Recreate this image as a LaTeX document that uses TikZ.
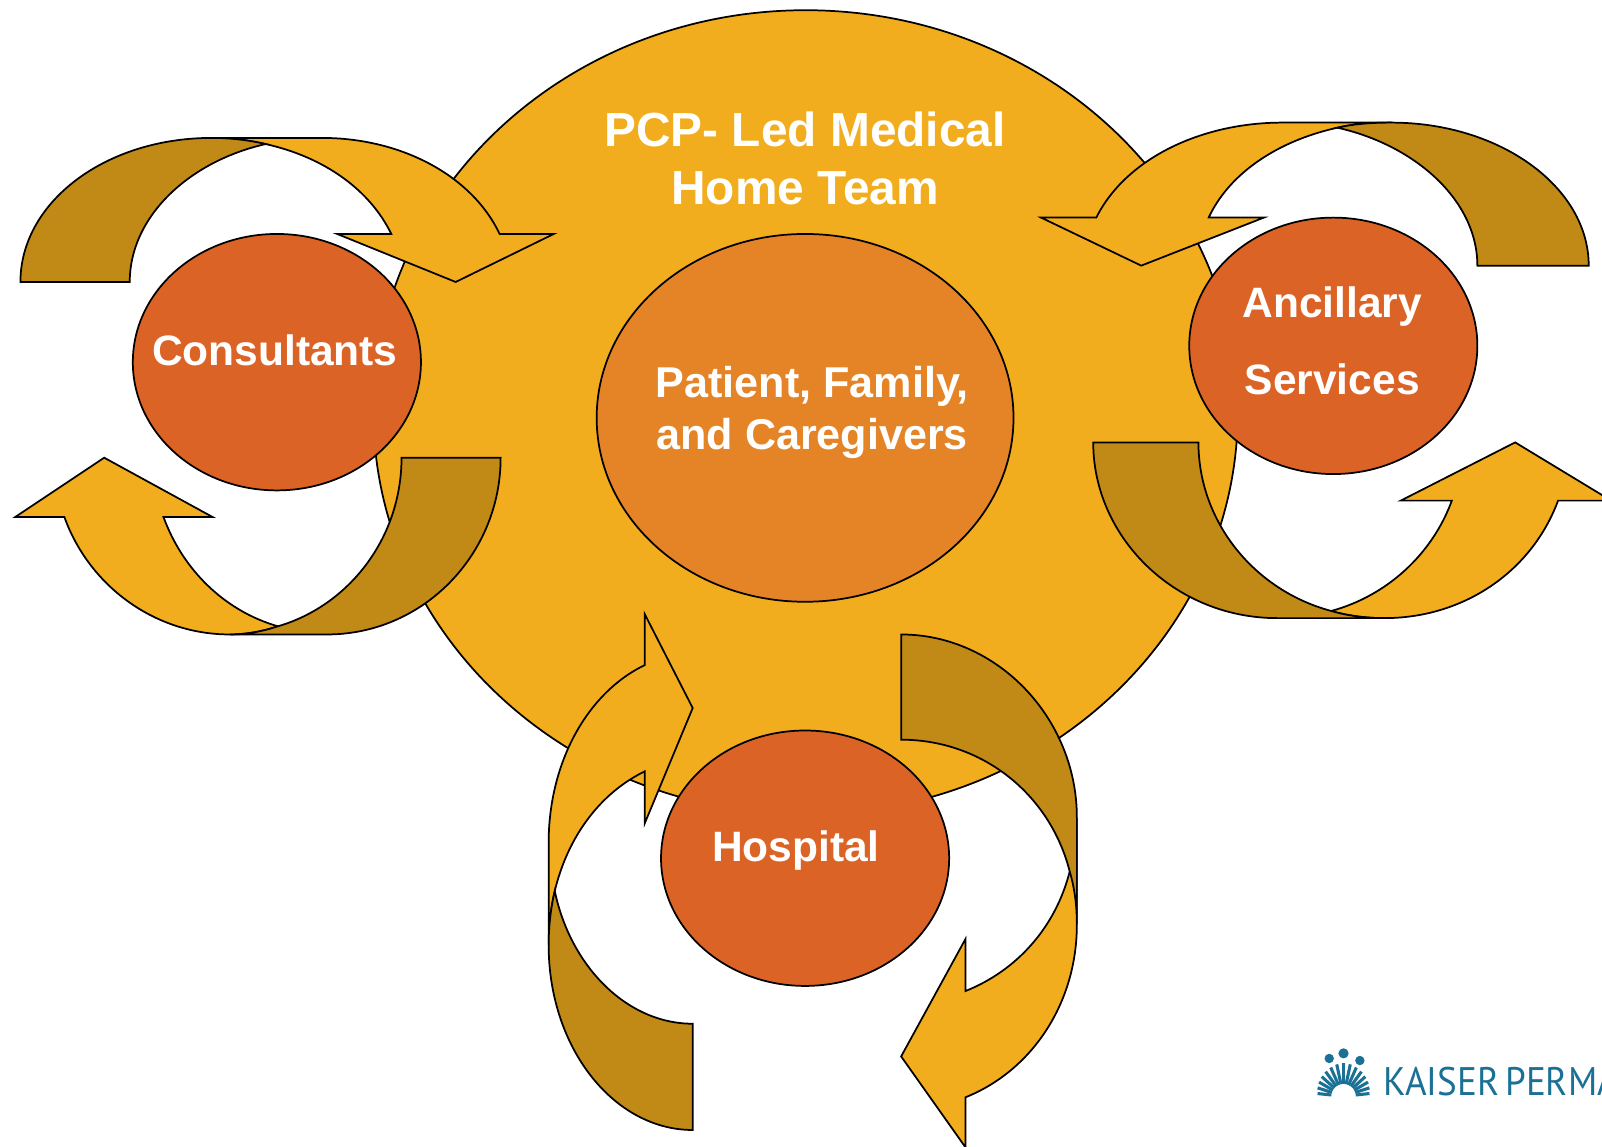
\documentclass[tikz,border=0pt]{standalone}
\usepackage{fontspec}
\setmainfont{Liberation Sans}
\newfontfamily\logofont{PT Sans}
\definecolor{goldfill}{HTML}{F1AD1D}
\definecolor{darkgold}{HTML}{C18915}
\definecolor{innerfill}{HTML}{E58426}
\definecolor{partnerfill}{HTML}{DC6326}
\definecolor{logoblue}{HTML}{1B7195}
\newcommand{\teamc}[0]{(788.5, 403.5)}
\newcommand{\patientc}[0]{(788, 409)}
\newcommand{\consultc}[0]{(271, 354.5)}
\newcommand{\ancillc}[0]{(1305, 338.5)}
\newcommand{\hospc}[0]{(788, 840)}
\tikzset{
  lightarc/.style={draw=black, fill=goldfill, line width=0.85pt, line join=miter},
  darkarc/.style={draw=black, fill=darkgold, line width=0.85pt, line join=miter},
  partner/.style={draw=black, fill=partnerfill, line width=0.85pt},
  whitelabel/.style={text=white, font=\bfseries\fontsize{20.8}{25.5}\selectfont, align=center, inner sep=0pt},
  logotext/.style={text=logoblue, font=\logofont\fontsize{19.5}{20}\selectfont, inner sep=0pt, anchor=base west, transform shape, xscale=0.93}
}
\begin{document}
\begin{tikzpicture}[x=0.5pt, y=-0.5pt]
\useasboundingbox (0, 0) rectangle (1568, 1122.6);
\draw [lightarc] \teamc{} ellipse [x radius=423, y radius=393.5];
\draw [draw=black, fill=innerfill, line width=0.85pt] \patientc{} ellipse [x radius=204, y radius=180];
\draw [lightarc] (207,135) -- (315,135) .. controls (393,135) and (462,172) .. (489,229) -- (542,229) -- (446,276) -- (330,229) -- (383,229) .. controls (362,186) and (318,154) .. (260,141) .. controls (243,137) and (225,135) .. (207,135) -- cycle;
\draw [darkarc] (20,276) .. controls (20,198) and (103,135) .. (207,135) .. controls (225,135) and (243,137) .. (260,141) .. controls (185,158) and (127,212) .. (127,276) -- cycle;
\draw [lightarc] (225,621) .. controls (151,621) and (87,573) .. (63,506) -- (15,506) -- (102,448) -- (208,506) -- (160,506) .. controls (179,558) and (220,598) .. (272,613) .. controls (257,618) and (241,621) .. (225,621) -- cycle;
\draw [darkarc] (393,448) -- (490,448) .. controls (490,543) and (414,621) .. (320,621) -- (225,621) .. controls (241,621) and (257,618) .. (272,613) .. controls (341,593) and (393,527) .. (393,448) -- cycle;
\draw [lightarc] (1362,120) -- (1255,120) .. controls (1176,120) and (1102,155) .. (1073,213) -- (1019,213) -- (1117,260) -- (1237,213) -- (1183,213) .. controls (1203,170) and (1250,138) .. (1309,125) .. controls (1326,121) and (1344,120) .. (1362,120) -- cycle;
\draw [darkarc] (1555,260) .. controls (1555,183) and (1468,120) .. (1362,120) .. controls (1344,120) and (1326,121) .. (1309,125) .. controls (1385,142) and (1446,196) .. (1446,260) -- cycle;
\draw [lightarc] (1355,605) .. controls (1432,605) and (1499,560) .. (1525,490) -- (1577,490) -- (1483,433) -- (1371,490) -- (1421,490) .. controls (1402,542) and (1358,583) .. (1303,598) .. controls (1320,603) and (1338,605) .. (1355,605) -- cycle;
\draw [darkarc] (1070,433) -- (1173,433) .. controls (1173,511) and (1228,578) .. (1303,598) .. controls (1320,603) and (1338,605) .. (1355,605) -- (1250,605) .. controls (1150,605) and (1070,526) .. (1070,433) -- cycle;
\draw [lightarc] (537,925) -- (537,825) .. controls (537,746) and (575,678) .. (631,651) -- (631,601) -- (678,693) -- (631,806) -- (631,755) .. controls (588,776) and (556,818) .. (543,872) .. controls (539,889) and (537,907) .. (537,925) -- cycle;
\draw [darkarc] (678,1106) .. controls (601,1106) and (537,1026) .. (537,925) .. controls (537,907) and (539,889) .. (543,872) .. controls (558,945) and (613,1002) .. (678,1002) -- cycle;
\draw [lightarc] (1054,800) -- (1054,905) .. controls (1054,982) and (1010,1048) .. (945,1074) -- (945,1123) -- (882,1034) -- (945,919) -- (945,970) .. controls (995,950) and (1033,908) .. (1047,853) .. controls (1052,836) and (1054,818) .. (1054,800) -- cycle;
\draw [darkarc] (882,621) .. controls (976,621) and (1054,703) .. (1054,800) -- (1054,905) .. controls (1054,887) and (1052,870) .. (1047,853) .. controls (1028,778) and (962,724) .. (882,724) -- cycle;
\draw [partner] \consultc{} ellipse [x radius=141, y radius=125.5];
\draw [partner] \ancillc{} ellipse [x radius=141, y radius=125.5];
\draw [partner] \hospc{} ellipse [x radius=141, y radius=125];
\node [whitelabel, font=\bfseries\fontsize{23.4}{28.5}\selectfont] (teamlabel) at (788, 155) {PCP- Led Medical\\Home Team};
\node [whitelabel, font=\bfseries\fontsize{21.1}{25.5}\selectfont] (patientlabel) at (795, 404) {Patient, Family,\\and Caregivers};
\node [whitelabel] (consultlabel) at (269, 343) {Consultants};
\node [whitelabel] (ancilltop) at (1304, 300) {Ancillary};
\node [whitelabel] (ancillbot) at (1304, 371) {Services};
\node [whitelabel] (hosplabel) at (779, 832) {Hospital};
\foreach \ang in {6, 18, ..., 174} {
  \draw [logoblue, line width=1.5pt] (1315, 1073) ++(-\ang:12) -- ++(-\ang:{21 - 8*abs(\ang - 90)/90});
}
\fill [logoblue] (1315, 1031) circle [radius=5];
\fill [logoblue] (1301, 1036) circle [radius=4.6];
\fill [logoblue] (1331, 1038) circle [radius=4.6];
\node [logotext] (logoname) at (1354, 1072) {KAISER\hspace{-2pt} PERMA};
\end{tikzpicture}
\end{document}
